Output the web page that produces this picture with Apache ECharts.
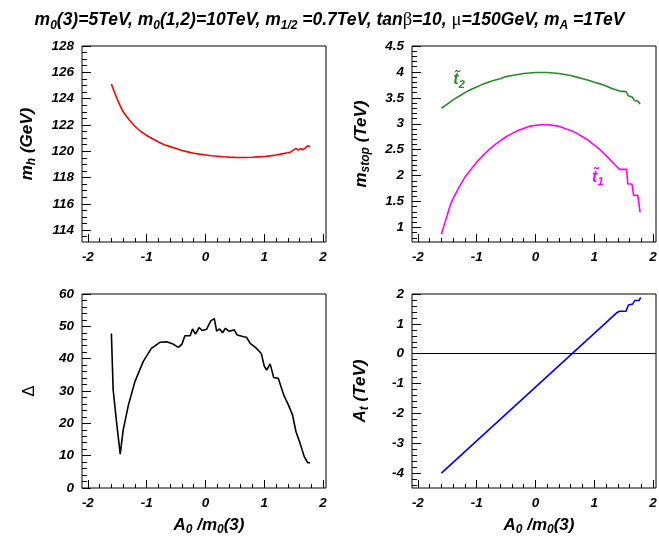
<!DOCTYPE html>
<html><head><meta charset="utf-8">
<script src="https://cdn.jsdelivr.net/npm/echarts@6/dist/echarts.min.js"></script>
<style>html,body{margin:0;padding:0;background:#fff}#c{width:659px;height:538px}</style>
</head><body><div id="c"></div>
<script>
// ---------- data ----------
const mhX = [-1.60,-1.55,-1.50,-1.45,-1.40,-1.35,-1.30,-1.20,-1.10,-1.00,-0.90,-0.80,-0.70,-0.60,-0.50,-0.40,-0.30,-0.20,-0.10,0.00,0.10,0.20,0.30,0.40,0.50,0.60,0.70,0.80,0.90,1.00,1.10,1.20,1.30,1.40,1.45,1.50,1.54,1.58,1.62,1.66,1.70,1.74,1.78];
const mhY = [125.1,124.5,123.95,123.45,123.0,122.7,122.4,121.9,121.5,121.2,120.95,120.7,120.5,120.35,120.2,120.05,119.95,119.85,119.78,119.72,119.66,119.62,119.58,119.55,119.53,119.52,119.52,119.54,119.57,119.6,119.65,119.72,119.8,119.88,119.95,120.1,120.22,120.08,120.2,120.12,120.25,120.42,120.35];

const t1X = [-1.60,-1.55,-1.50,-1.45,-1.40,-1.30,-1.20,-1.10,-1.00,-0.90,-0.80,-0.70,-0.60,-0.50,-0.40,-0.30,-0.20,-0.10,0.00,0.10,0.20,0.30,0.40,0.50,0.60,0.70,0.80,0.90,1.00,1.10,1.20,1.30,1.36,1.43,1.55,1.57,1.64,1.67,1.74,1.78];
const t1Y = [0.87,1.06,1.24,1.43,1.56,1.78,1.97,2.12,2.26,2.38,2.49,2.59,2.67,2.75,2.81,2.87,2.91,2.95,2.97,2.98,2.98,2.97,2.95,2.91,2.87,2.82,2.75,2.68,2.59,2.50,2.39,2.27,2.20,2.12,2.12,1.84,1.84,1.62,1.62,1.29];

const t2X = [-1.60,-1.50,-1.40,-1.30,-1.20,-1.10,-1.00,-0.90,-0.80,-0.70,-0.60,-0.50,-0.40,-0.30,-0.20,-0.10,0.00,0.10,0.20,0.30,0.40,0.50,0.60,0.70,0.80,0.90,1.00,1.10,1.20,1.30,1.43,1.54,1.58,1.65,1.68,1.74,1.78];
const t2Y = [3.30,3.38,3.46,3.53,3.60,3.66,3.71,3.76,3.80,3.84,3.87,3.91,3.93,3.95,3.97,3.98,3.99,3.99,3.99,3.98,3.97,3.95,3.93,3.90,3.87,3.84,3.80,3.77,3.73,3.68,3.63,3.62,3.54,3.51,3.45,3.44,3.38];

const dX = [-1.60,-1.57,-1.51,-1.45,-1.40,-1.31,-1.20,-1.06,-0.92,-0.77,-0.66,-0.55,-0.46,-0.40,-0.35,-0.26,-0.22,-0.17,-0.11,-0.05,0.02,0.09,0.15,0.19,0.24,0.29,0.34,0.40,0.49,0.54,0.65,0.70,0.76,0.85,0.95,1.00,1.04,1.10,1.16,1.24,1.33,1.41,1.48,1.54,1.61,1.68,1.74,1.78];
const dY = [47.8,30.3,20.0,10.5,17.9,25.7,32.9,39.1,43.2,45.1,45.2,44.5,43.5,44.5,47.1,47.1,49.2,47.6,49.6,48.7,49.1,51.7,52.4,48.5,49.2,48.0,49.4,48.5,48.9,47.3,46.8,46.6,44.7,43.5,41.6,37.7,36.5,38.4,34.2,33.9,28.8,25.7,22.6,17.4,13.8,9.7,7.8,7.8];

const atX = [-1.60,-1.40,-1.20,-1.00,-0.80,-0.60,-0.40,-0.20,0.00,0.20,0.40,0.60,0.80,1.00,1.20,1.38,1.43,1.54,1.58,1.65,1.69,1.76,1.79];
const atY = [-4.00,-3.64,-3.28,-2.92,-2.56,-2.20,-1.84,-1.48,-1.12,-0.76,-0.40,-0.04,0.32,0.68,1.04,1.37,1.42,1.42,1.63,1.66,1.78,1.78,1.89];

// tick values
const xMajor = [-2,-1,0,1,2];
const xMinor = [-1.8,-1.6,-1.4,-1.2,-0.8,-0.6,-0.4,-0.2,0.2,0.4,0.6,0.8,1.2,1.4,1.6,1.8];
const mhMajor = [114,116,118,120,122,124,126,128];
const mhMinor = [113.5,114.5,115,115.5,116.5,117,117.5,118.5,119,119.5,120.5,121,121.5,122.5,123,123.5,124.5,125,125.5,126.5,127,127.5];
const stMajor = [1,1.5,2,2.5,3,3.5,4,4.5];
const stMinor = [0.8,0.9,1.1,1.2,1.3,1.4,1.6,1.7,1.8,1.9,2.1,2.2,2.3,2.4,2.6,2.7,2.8,2.9,3.1,3.2,3.3,3.4,3.6,3.7,3.8,3.9,4.1,4.2,4.3,4.4];
const dMajor = [0,10,20,30,40,50,60];
const dMinor = [2,4,6,8,12,14,16,18,22,24,26,28,32,34,36,38,42,44,46,48,52,54,56,58];
const atMajor = [-4,-3,-2,-1,0,1,2];
const atMinor = [-4.4,-4.2,-3.8,-3.6,-3.4,-3.2,-2.8,-2.6,-2.4,-2.2,-1.8,-1.6,-1.4,-1.2,-0.8,-0.6,-0.4,-0.2,0.2,0.4,0.6,0.8,1.2,1.4,1.6,1.8];

// label anchor points (data space)
const t2Label = [-1.30, 3.85];
const t1Label = [1.06, 1.97];

// ---------- styles ----------
const FONT = 'Liberation Sans';
const bi = {fontFamily: FONT, fontWeight: 'bold', fontStyle: 'italic', color: '#000'};
function richSet(size, color) {
  const sub = Math.round(size * 0.68);
  return {
    m: Object.assign({}, bi, {fontSize: size, lineHeight: size + 5, color: color || '#000'}),
    s: Object.assign({}, bi, {fontSize: sub, lineHeight: sub, padding: [size + 5 - sub + 1, 0, 0, 0], verticalAlign: 'bottom', color: color || '#000'}),
    g: {fontFamily: 'Liberation Serif', fontWeight: 'normal', fontStyle: 'normal', fontSize: size + 1, lineHeight: size + 5, color: color || '#000'},
    d: {fontFamily: 'DejaVu Sans', fontWeight: 'normal', fontStyle: 'normal', fontSize: size - 1, lineHeight: size + 5, color: '#000'}
  };
}
const pair = (xs, ys) => xs.map((x, i) => [x, ys[i]]);

const grids = [
  {left: 82, top: 46, width: 244, height: 196},
  {left: 412, top: 46, width: 244, height: 196},
  {left: 82, top: 294, width: 244, height: 194},
  {left: 412, top: 294, width: 244, height: 194}
].map(g => Object.assign(g, {show: true, borderColor: '#000', borderWidth: 1, backgroundColor: 'transparent', containLabel: false, outerBoundsMode: 'none'}));

const lbl = Object.assign({}, bi, {fontSize: 13.5});
const fmt = v => String(Math.round(v * 100) / 100);
const noLine = {show: false, onZero: false};

function xAxes(gi, name) {
  return [
    {type: 'value', gridIndex: gi, min: -2.1, max: 2.05, position: 'bottom',
     axisLine: noLine, splitLine: {show: false},
     axisTick: {show: true, inside: true, length: 8, customValues: xMajor, lineStyle: {color: '#000', width: 1}},
     axisLabel: Object.assign({show: true, customValues: xMajor, margin: 8, formatter: fmt, hideOverlap: false}, lbl),
     name: name || '', nameLocation: 'middle', nameGap: 26,
     nameTextStyle: {rich: richSet(17), padding: [0, 0, 0, 10]}},
    {type: 'value', gridIndex: gi, min: -2.1, max: 2.05, position: 'bottom',
     axisLine: noLine, splitLine: {show: false},
     axisTick: {show: true, inside: true, length: 4, customValues: xMinor, lineStyle: {color: '#000', width: 1}},
     axisLabel: {show: false}}
  ];
}
function yAxes(gi, min, max, major, minor, name, gap) {
  return [
    {type: 'value', gridIndex: gi, min: min, max: max, position: 'left',
     axisLine: noLine, splitLine: {show: false},
     axisTick: {show: true, inside: true, length: 9, customValues: major, lineStyle: {color: '#000', width: 1}},
     axisLabel: Object.assign({show: true, customValues: major, margin: 8, formatter: fmt, hideOverlap: false}, lbl),
     name: name, nameLocation: 'middle', nameRotate: 90, nameGap: gap,
     nameTextStyle: {rich: richSet(17)}},
    {type: 'value', gridIndex: gi, min: min, max: max, position: 'left',
     axisLine: noLine, splitLine: {show: false},
     axisTick: {show: true, inside: true, length: 5, customValues: minor, lineStyle: {color: '#000', width: 1}},
     axisLabel: {show: false}}
  ];
}

const xName = '{m|A}{s|0}{m| /m}{s|0}{m|(3)}';
const option = {
  animation: false,
  backgroundColor: '#fff',
  title: {
    text: '{m|m}{s|0}{m|(3)=5TeV, m}{s|0}{m|(1,2)=10TeV, m}{s|1/2}{m| =0.7TeV, tan}{g|β}{m|=10, }{g|μ}{m|=150GeV, m}{s|A}{m| =1TeV}',
    left: 'center', top: 4,
    textStyle: {rich: richSet(17.5)}
  },
  grid: grids,
  xAxis: [].concat(xAxes(0), xAxes(1), xAxes(2, xName), xAxes(3, xName)),
  yAxis: [].concat(
    yAxes(0, 113.1, 128, mhMajor, mhMinor, '{m|m}{s|h}{m| (GeV)}', 44),
    yAxes(1, 0.72, 4.5, stMajor, stMinor, '{m|m}{s|stop}{m| (TeV)}', 40),
    yAxes(2, 0, 60, dMajor, dMinor, '{d|Δ}', 41),
    yAxes(3, -4.5, 2, atMajor, atMinor, '{m|A}{s|t}{m| (TeV)}', 41)
  ),
  series: [
    {type: 'line', xAxisIndex: 0, yAxisIndex: 0, data: pair(mhX, mhY), showSymbol: false, symbol: 'none',
     lineStyle: {color: '#ff0000', width: 1.6}},
    {type: 'line', xAxisIndex: 2, yAxisIndex: 2, data: pair(t2X, t2Y), showSymbol: false, symbol: 'none',
     lineStyle: {color: '#2a8a2a', width: 1.6},
     markPoint: {symbol: 'circle', symbolSize: 0, silent: true,
       data: [{coord: t2Label, value: 0}],
       label: {show: true, position: 'inside', formatter: '{m|t\u0303}{s|2}', rich: richSet(16, '#2a8a2a')}}},
    {type: 'line', xAxisIndex: 2, yAxisIndex: 2, data: pair(t1X, t1Y), showSymbol: false, symbol: 'none',
     lineStyle: {color: '#ff00ff', width: 1.6},
     markPoint: {symbol: 'circle', symbolSize: 0, silent: true,
       data: [{coord: t1Label, value: 0}],
       label: {show: true, position: 'inside', formatter: '{m|t\u0303}{s|1}', rich: richSet(16, '#ff00ff')}}},
    {type: 'line', xAxisIndex: 4, yAxisIndex: 4, data: pair(dX, dY), showSymbol: false, symbol: 'none',
     lineStyle: {color: '#000', width: 1.6}},
    {type: 'line', xAxisIndex: 6, yAxisIndex: 6, data: pair(atX, atY), showSymbol: false, symbol: 'none',
     lineStyle: {color: '#0000ff', width: 1.6},
     markLine: {silent: true, symbol: ['none', 'none'], label: {show: false},
       lineStyle: {color: '#000', type: 'solid', width: 1},
       data: [{yAxis: 0}]}}
  ]
};
const chart = echarts.init(document.getElementById('c'), null, {renderer: 'canvas'});
chart.setOption(option);
</script>
</body></html>
